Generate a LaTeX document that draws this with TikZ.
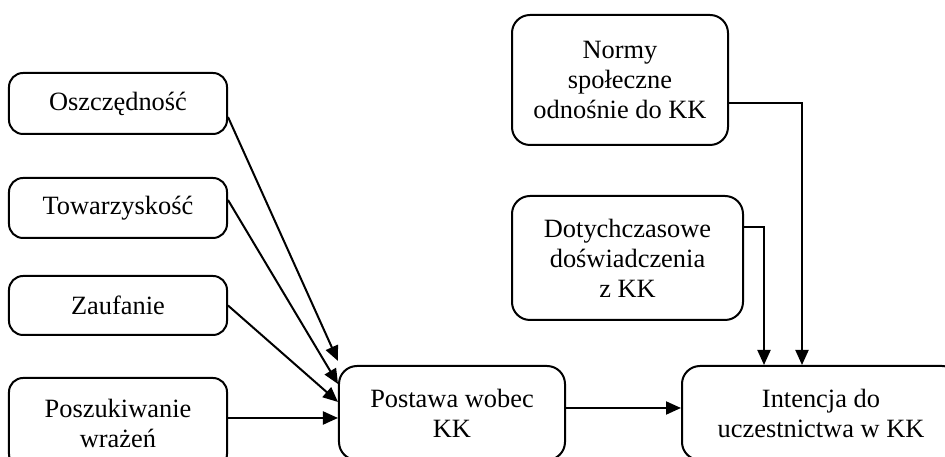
\documentclass[tikz,border=0pt]{standalone}
\usepackage{fontspec}
\setmainfont{Liberation Serif}
\usetikzlibrary{arrows.meta,positioning}

\begin{document}
\begin{tikzpicture}[
    x=0.5bp,
    y=-0.5bp,
    line width=1bp,
    >={Triangle[length=7.5bp,width=6.5bp]},
    factor node/.style={rectangle,rounded corners=7bp,draw,align=center,minimum width=109bp,font=\fontsize{13.2bp}{15bp}\selectfont},
    main node/.style={rectangle,rounded corners=9bp,draw,align=center,font=\fontsize{13.2bp}{15bp}\selectfont}
]
\useasboundingbox (0,0) rectangle (945,457);
\clip (0,0) rectangle (945,457);

% Factors
\node[factor node, minimum height=30.5bp] (oszcz) at (118,103.5) {Oszczędność};
\node[factor node, minimum height=30bp] (towarz) at (118,208) {Towarzyskość};
\node[factor node, minimum height=29.5bp] (zauf) at (118,305.5) {Zaufanie};
\node[factor node, minimum height=45bp] (poszuk) at (118,423) {Poszukiwanie\\wrażeń};

% Attitude
\node[main node, minimum width=113bp, minimum height=47bp] (postawa) at (452,413) {Postawa wobec\\KK};

% Norms and experience
\node[main node, minimum width=108bp, minimum height=65bp] (normy) at (620,80) {Normy\\społeczne\\odnośnie do KK};
\node[main node, minimum width=115.5bp, minimum height=62bp] (dotych) at (627.5,258) {Dotychczasowe\\doświadczenia\\z KK};

% Intention
\node[main node, minimum width=139bp, minimum height=47bp] (intencja) at (821,413) {Intencja do\\uczestnictwa w KK};

% Arrows
\draw[->] ([yshift=-6.75bp]oszcz.east) -- ([yshift=2bp]postawa.north west);
\draw[->] ([yshift=4bp]towarz.east) -- ([yshift=-9.5bp]postawa.north west);
\draw[->] (zauf.east) -- ([yshift=-18.5bp]postawa.north west);
\draw[->] ([yshift=2.5bp]poszuk.east) -- ([yshift=2.5bp]poszuk.east -| postawa.west);

\draw[->] ([yshift=2.5bp]postawa.east) -- ([yshift=2.5bp]postawa.east -| intencja.west);

\draw[->] ([yshift=-11.5bp]normy.east) -| ([xshift=60.5bp]intencja.north west);
\draw[->] ([yshift=15.5bp]dotych.east) -| ([xshift=41.5bp]intencja.north west);

\end{tikzpicture}
\end{document}
